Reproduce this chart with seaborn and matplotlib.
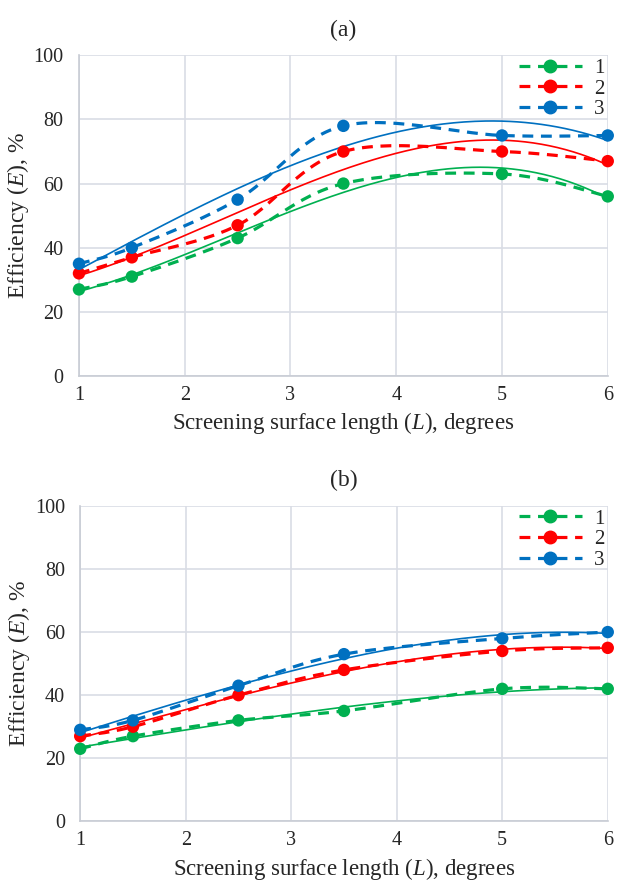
import numpy as np
import pandas as pd
import matplotlib
matplotlib.use('Agg')
import matplotlib.pyplot as plt
import seaborn as sns

# screening surface length (L), degrees
L = [1, 1.5, 2.5, 3.5, 5, 6]

# panel (a)
a_1 = [27, 31, 43, 60, 63, 56]
a_2 = [32, 37, 47, 70, 70, 67]
a_3 = [35, 40, 55, 78, 75, 75]

# panel (b)
b_1 = [23, 27, 32, 35, 42, 42]
b_2 = [27, 30, 40, 48, 54, 55]
b_3 = [29, 32, 43, 53, 58, 60]

series_names = ['1', '2', '3']
colors = ['#00B050', '#FF0000', '#0070C0']

sns.set_style('whitegrid')
plt.rcParams['font.family'] = ['Liberation Serif', 'DejaVu Serif']
plt.rcParams['mathtext.fontset'] = 'custom'
plt.rcParams['mathtext.it'] = 'Liberation Serif:italic'
plt.rcParams['mathtext.rm'] = 'Liberation Serif'

DASH = (0, (3.4, 2.4))


def smooth(x, y, n=30):
    # Excel-like smoothed line: Bezier segments with Catmull-Rom tangents
    x = np.asarray(x, float)
    y = np.asarray(y, float)
    px = np.concatenate([[x[0]], x, [x[-1]]])
    py = np.concatenate([[y[0]], y, [y[-1]]])
    xs, ys = [], []
    t = np.linspace(0, 1, n)
    for i in range(1, len(px) - 2):
        p0 = np.array([px[i], py[i]])
        p3 = np.array([px[i + 1], py[i + 1]])
        p1 = p0 + (np.array([px[i + 1], py[i + 1]]) - np.array([px[i - 1], py[i - 1]])) / 6
        p2 = p3 - (np.array([px[i + 2], py[i + 2]]) - np.array([px[i], py[i]])) / 6
        b = ((1 - t) ** 3)[:, None] * p0 + (3 * (1 - t) ** 2 * t)[:, None] * p1 \
            + (3 * (1 - t) * t ** 2)[:, None] * p2 + (t ** 3)[:, None] * p3
        xs.append(b[:, 0])
        ys.append(b[:, 1])
    return np.concatenate(xs), np.concatenate(ys)


def panel(ax, data, title):
    xx = np.linspace(1, 6, 200)
    for name, vals, c in zip(series_names, data, colors):
        df = pd.DataFrame({'L': L, 'E': vals})
        sx, sy = smooth(L, vals)
        ax.plot(sx, sy, color=c, lw=2.3, ls=DASH, zorder=3, clip_on=False)
        sns.scatterplot(data=df, x='L', y='E', color=c, s=80, edgecolor='none', ax=ax,
                        zorder=4, clip_on=False)
        # polynomial trend line
        coef = np.polyfit(L, vals, 3)
        ax.plot(xx, np.polyval(coef, xx), color=c, lw=1.2, zorder=3)
        ax.plot([], [], color=c, lw=2.3, ls=DASH, marker='o', ms=9, label=name)

    ax.set_xlim(1, 6)
    ax.set_ylim(0, 100)
    ax.set_xticks([1, 2, 3, 4, 5, 6])
    ax.set_yticks([0, 20, 40, 60, 80, 100])
    ax.tick_params(labelsize=14.5, length=0)
    ax.tick_params(axis='y', pad=11)
    ax.tick_params(axis='x', pad=7)
    ax.grid(color='#D9DDE5', lw=1.2)
    for s in ['top', 'right']:
        ax.spines[s].set_visible(False)
    for s in ['left', 'bottom']:
        ax.spines[s].set_color('#C8CCD4')
        ax.spines[s].set_linewidth(1.2)
    ax.set_xlabel('Screening surface length ($\\mathit{L}$), degrees', fontsize=16.5, labelpad=4)
    ax.set_ylabel('Efficiency ($\\mathit{E}$), %', fontsize=17, labelpad=2)
    ax.set_title(title, fontsize=17, pad=14)
    ax.legend(loc='upper right', frameon=False, fontsize=15, handlelength=3.0,
              borderaxespad=0.0, borderpad=0.15, labelspacing=0.05, handletextpad=0.6)


fig = plt.figure(figsize=(6.17, 8.86), dpi=100)
ax1 = fig.add_axes([0.128, 0.5756, 0.857, 0.362])
ax2 = fig.add_axes([0.13, 0.073, 0.855, 0.356])

panel(ax1, [a_1, a_2, a_3], '(a)')
panel(ax2, [b_1, b_2, b_3], '(b)')

fig.savefig('out.png', dpi=100)
